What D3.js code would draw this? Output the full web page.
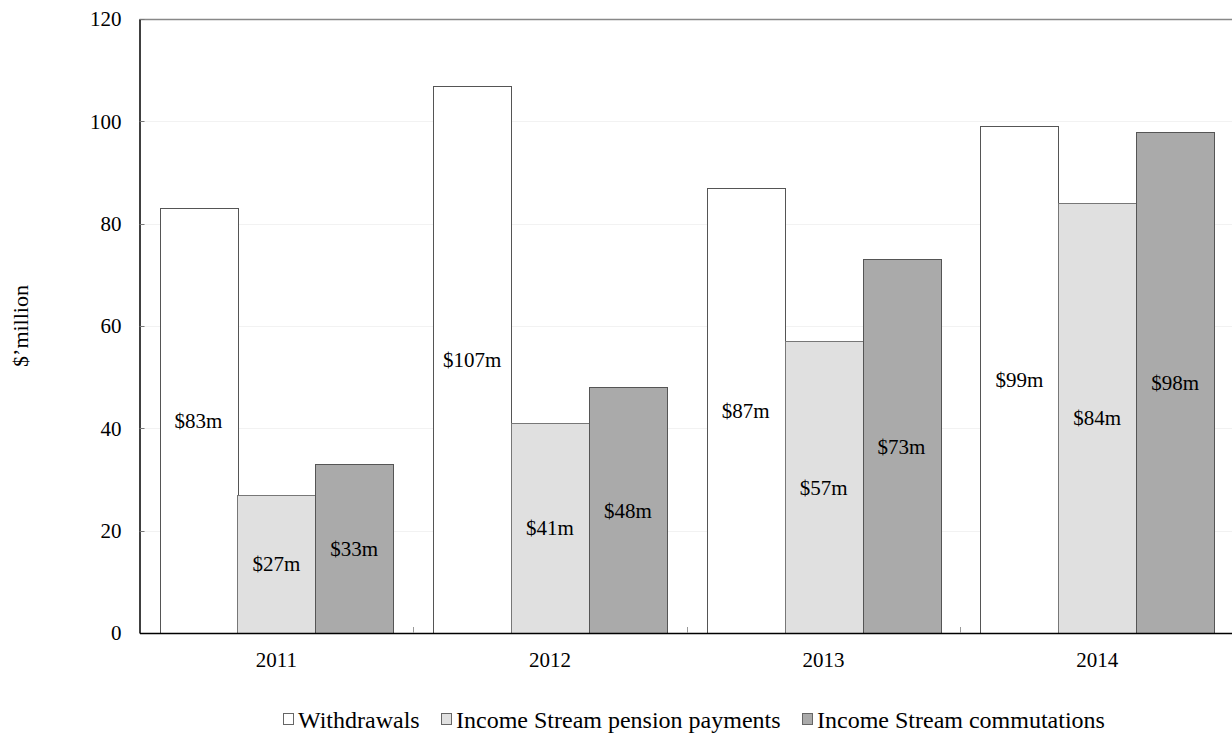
<!DOCTYPE html>
<html>
<head>
<meta charset="utf-8">
<script src="https://cdn.jsdelivr.net/npm/d3@7/dist/d3.min.js"></script>
<style>
  html, body { margin: 0; padding: 0; background: #fff; }
  svg { display: block; font-family: "Liberation Serif", "Times New Roman", serif; }
</style>
</head>
<body>
<svg id="chart" width="1232" height="733"></svg>
<script>
// Data
const years = ["2011", "2012", "2013", "2014"];
const seriesNames = ["Withdrawals", "Income Stream pension payments", "Income Stream commutations"];
const withdrawals = [83, 107, 87, 99];
const pensionPayments = [27, 41, 57, 84];
const commutations = [33, 48, 73, 98];
const yTicks = [0, 20, 40, 60, 80, 100, 120];

const seriesValues = [withdrawals, pensionPayments, commutations];
const fills = ["#ffffff", "#e0e0e0", "#aaaaaa"];
const strokes = ["#555555", "#777777", "#555555"];

const svg = d3.select("#chart");
const margin = { left: 139.5, right: -2, top: 19, bottom: 100 };
const W = 1232, H = 733;
const fontSize = 21;
const legendFont = 24;
const titleFont = 22;

const x = d3.scaleBand().domain(years).range([margin.left, W - margin.right]).paddingInner(0).paddingOuter(0);
// bars occupy each band minus a 20px gap on either side
const barPad = 20;
const barW = (x.bandwidth() - 2 * barPad) / 3;

const y = d3.scaleLinear().domain([0, 120]).range([H - margin.bottom, margin.top]);

// gridlines
svg.append("g")
  .selectAll("line")
  .data(yTicks.filter(d => d > 0 && d < 120))
  .join("line")
  .attr("x1", margin.left).attr("x2", W)
  .attr("y1", d => Math.round(y(d)) + 0.5).attr("y2", d => Math.round(y(d)) + 0.5)
  .attr("stroke", "#f2f2f2").attr("stroke-width", 1);

// top border line
svg.append("line")
  .attr("x1", margin.left).attr("x2", W)
  .attr("y1", Math.round(y(120)) + 0.5).attr("y2", Math.round(y(120)) + 0.5)
  .attr("stroke", "#888").attr("stroke-width", 1.5);

// bars with value labels at half height
years.forEach((yr, i) => {
  const g = svg.append("g");
  seriesValues.forEach((vals, s) => {
    const v = vals[i];
    const bx = x(yr) + barPad + s * barW;
    g.append("rect")
      .attr("x", Math.round(bx) + 0.5)
      .attr("y", Math.round(y(v)) + 0.5)
      .attr("width", Math.round(barW))
      .attr("height", Math.round(y(0)) - Math.round(y(v)))
      .attr("fill", fills[s])
      .attr("stroke", strokes[s])
      .attr("stroke-width", 1);
    g.append("text")
      .attr("x", bx + barW / 2)
      .attr("y", y(v / 2))
      .attr("dy", "0.35em")
      .attr("text-anchor", "middle")
      .attr("font-size", fontSize)
      .attr("fill", "#000")
      .text("$" + v + "m");
  });
});

// y axis
const yAxis = d3.axisLeft(y).tickValues(yTicks).tickSize(0).tickPadding(18);
const yg = svg.append("g").attr("transform", `translate(${margin.left},0)`).call(yAxis);
yg.select(".domain").attr("stroke", "#000").attr("stroke-width", 1.5);
yg.selectAll("text").attr("font-size", fontSize).attr("fill", "#000")
  .attr("font-family", "Liberation Serif, Times New Roman, serif");
// inward tick marks
svg.append("g").selectAll("line").data(yTicks.filter(d => d > 0))
  .join("line")
  .attr("x1", margin.left).attr("x2", margin.left + 5)
  .attr("y1", d => Math.round(y(d)) + 0.5).attr("y2", d => Math.round(y(d)) + 0.5)
  .attr("stroke", "#777").attr("stroke-width", 1);

// x axis
const xAxis = d3.axisBottom(x).tickSize(0).tickPadding(19);
const xg = svg.append("g").attr("transform", `translate(0,${y(0)})`).call(xAxis);
xg.select(".domain").attr("stroke", "#000").attr("stroke-width", 1.5);
xg.selectAll("text").attr("font-size", fontSize).attr("fill", "#000")
  .attr("font-family", "Liberation Serif, Times New Roman, serif");
// category boundary ticks pointing up
svg.append("g").selectAll("line").data(years.slice(1))
  .join("line")
  .attr("x1", d => Math.round(x(d)) + 0.5).attr("x2", d => Math.round(x(d)) + 0.5)
  .attr("y1", y(0)).attr("y2", y(0) - 6)
  .attr("stroke", "#999").attr("stroke-width", 1);

// y title
svg.append("text")
  .attr("transform", `translate(28,${(y(0) + y(120)) / 2}) rotate(-90)`)
  .attr("text-anchor", "middle")
  .attr("font-size", titleFont)
  .text("$\u2019million");

// legend
const legendX = [283, 441, 802];
const legend = svg.append("g");
seriesNames.forEach((name, s) => {
  legend.append("rect")
    .attr("x", legendX[s] + 0.5).attr("y", 713.5)
    .attr("width", 10).attr("height", 11)
    .attr("fill", fills[s]).attr("stroke", "#666").attr("stroke-width", 1);
  legend.append("text")
    .attr("x", legendX[s] + 15).attr("y", 720)
    .attr("dy", "0.35em")
    .attr("font-size", legendFont)
    .text(name);
});
</script>
</body>
</html>
